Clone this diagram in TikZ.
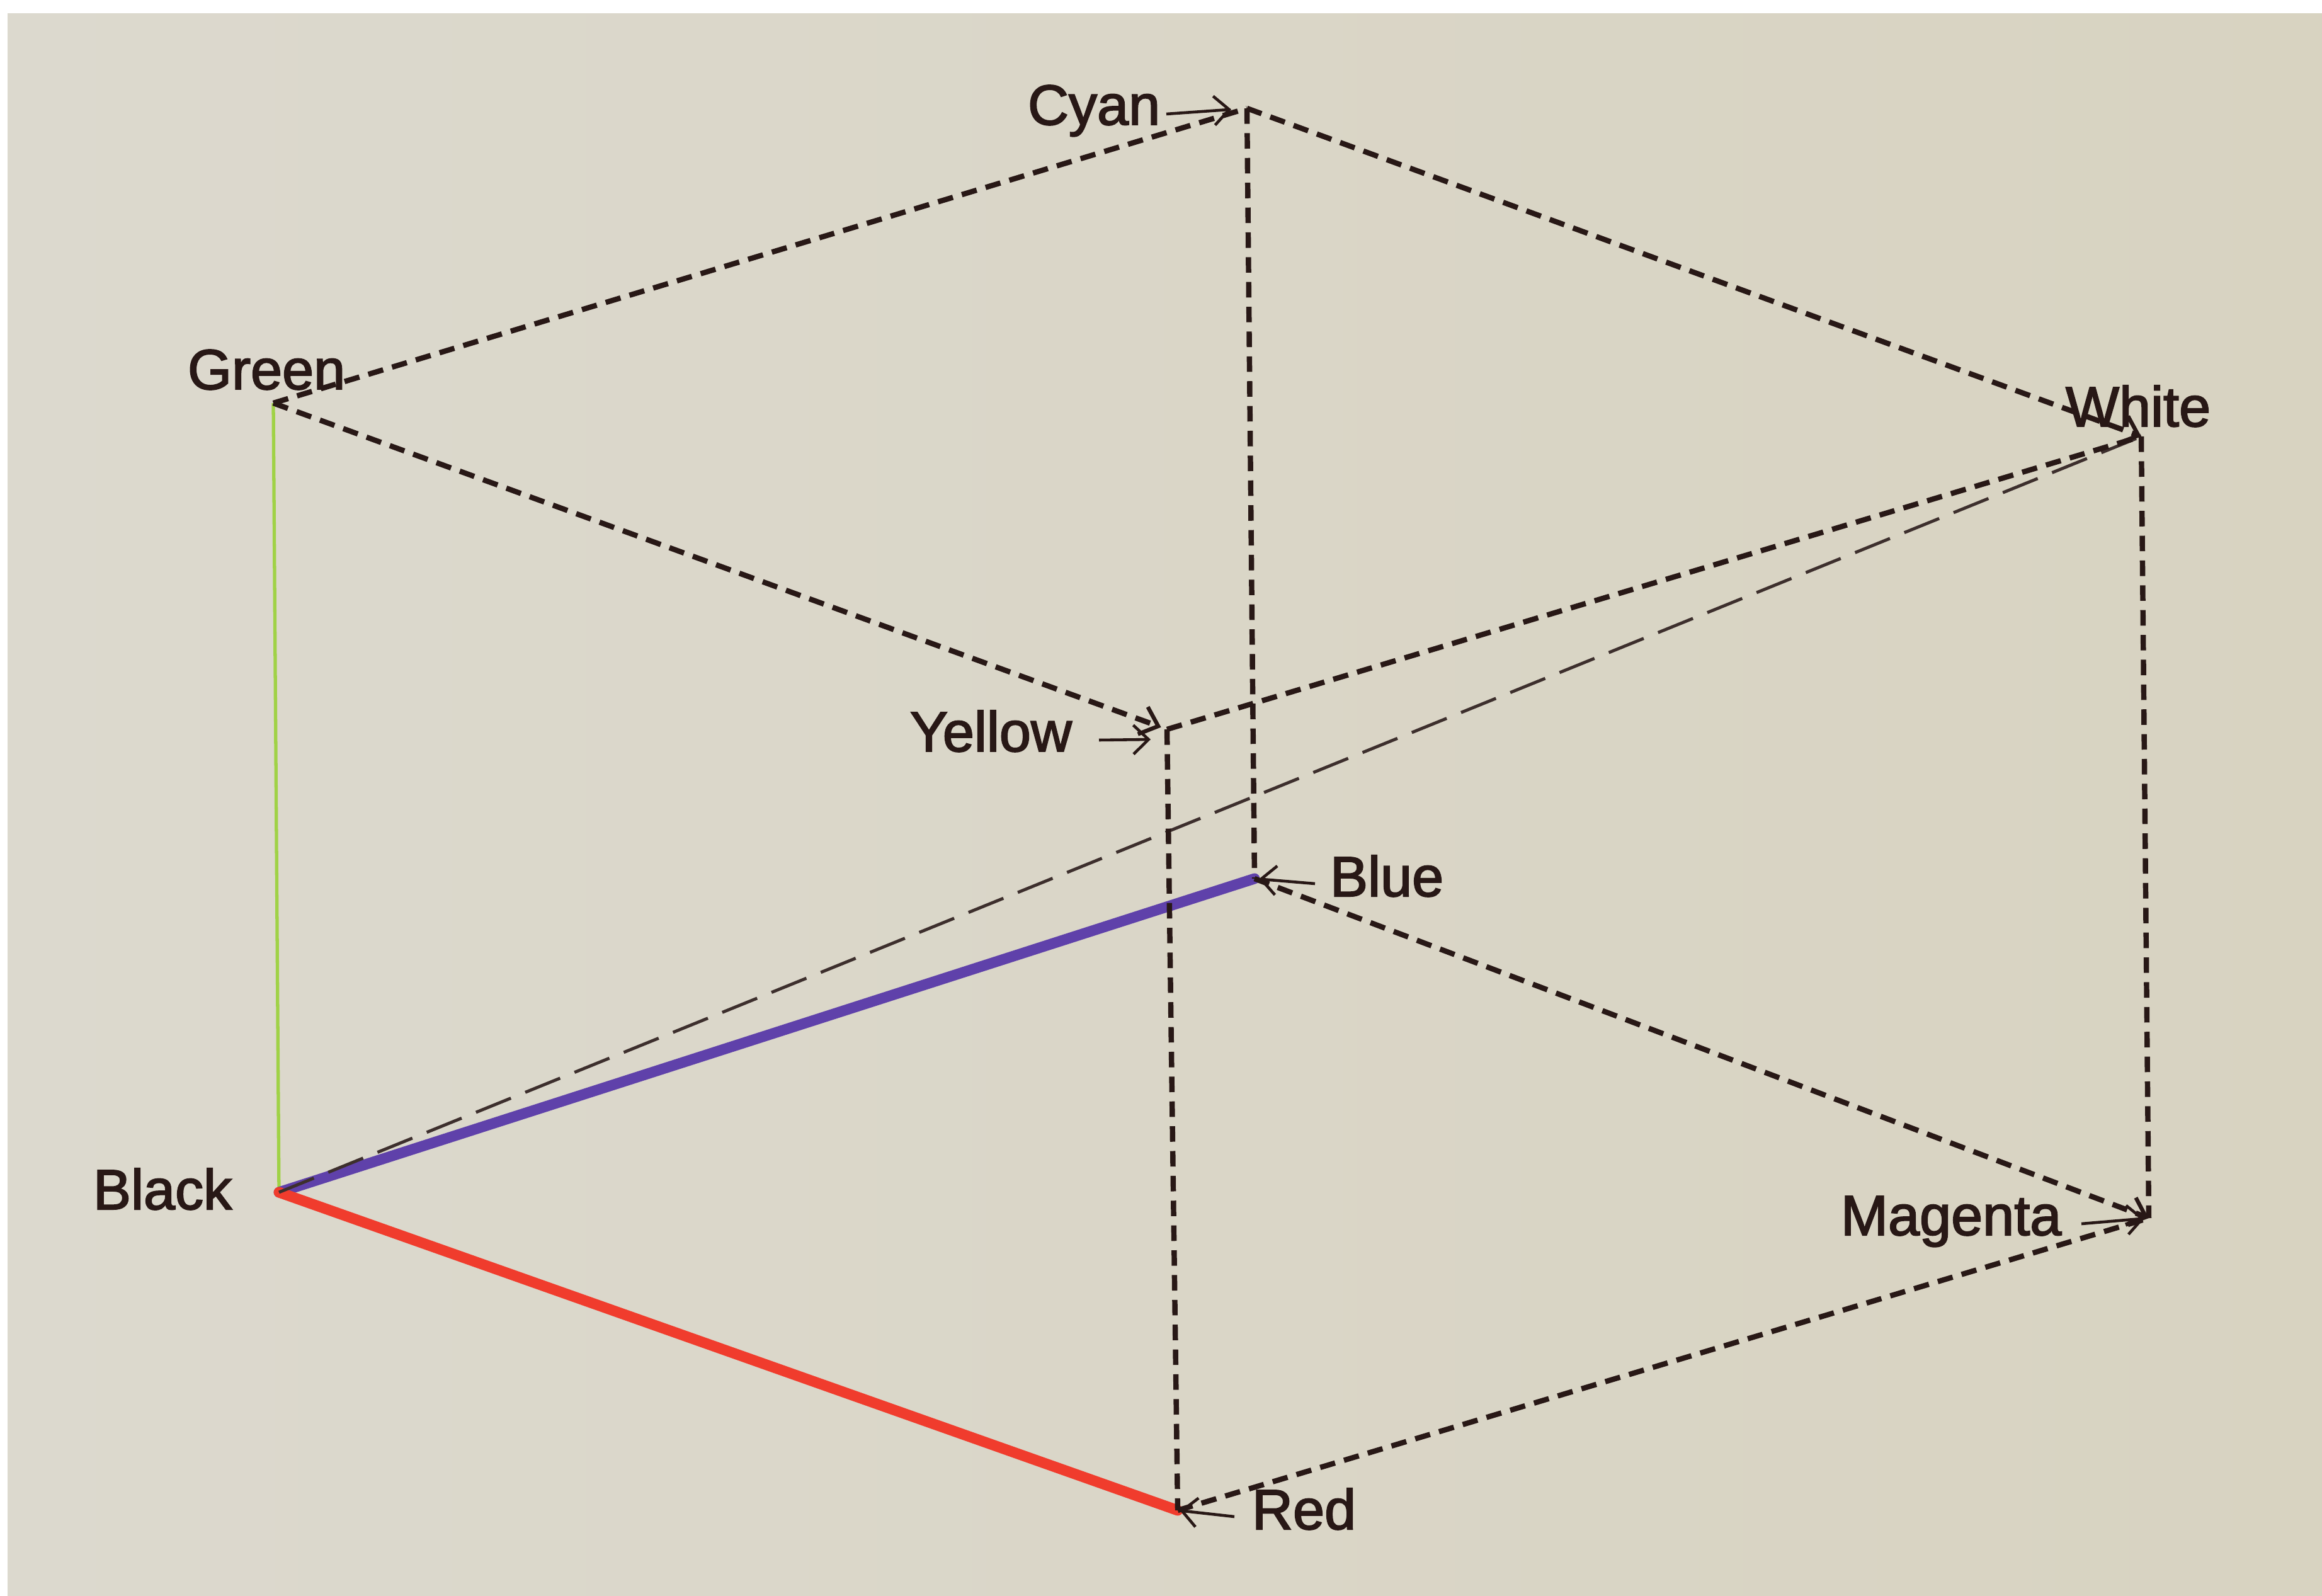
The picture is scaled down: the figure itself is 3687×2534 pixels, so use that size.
\documentclass[tikz,border=0pt]{standalone}
\usepackage{fontspec}
\setmainfont{Liberation Sans}
\newfontfamily\labfont[FakeBold=2.2]{Liberation Sans}
\usetikzlibrary{arrows.meta}
\definecolor{ink}{RGB}{40,24,22}
\definecolor{bgL}{RGB}{220,217,206}
\definecolor{bgR}{RGB}{216,211,193}
\definecolor{lgreen}{RGB}{160,210,70}
\definecolor{lpurple}{RGB}{95,65,170}
\definecolor{lred}{RGB}{240,60,45}
\begin{document}
\begin{tikzpicture}[x=0.01cm,y=-0.01cm,
  edge/.style={draw=ink, line width=2.4pt, dash pattern=on 7pt off 4.2pt},
  diag/.style={draw=ink!90, line width=1.4pt, dash pattern=on 17pt off 7pt},
  lbl/.style={draw=ink, line width=1.3pt, -{Straight Barb[length=0.24cm,width=0.46cm]}},
  endtip/.style={-{Straight Barb[length=0.26cm,width=0.46cm,line width=1.8pt]}},
  vlabel/.style={text=ink, inner sep=0pt, outer sep=0pt, anchor=base west, font=\labfont\fontsize{25.6pt}{30pt}\selectfont}]
\useasboundingbox (0,0) rectangle (3687,2534);
\fill[white] (0,0) rectangle (3687,2534);
\shade[left color=bgL, right color=bgR] (12,22) rectangle (3687,2534);

% cube vertices
\coordinate (K) at (443,1893);
\coordinate (G) at (434,640);
\coordinate (C) at (1980,172);
\coordinate (W) at (3400,693);
\coordinate (Y) at (1853,1158);
\coordinate (B) at (1992,1395);
\coordinate (M) at (3412,1934);
\coordinate (R) at (1870,2398);

% coloured axes
\draw[lgreen, line width=1.5pt] (K) -- (G);
\draw[lpurple, line width=4.8pt, line cap=round] (K) -- (B);
\draw[lred, line width=4.8pt, line cap=round] (K) -- (R);

% diagonal
\draw[diag] (K) -- (W);

% dashed edges
\draw[edge] (G) -- (C);
\draw[edge, endtip, shorten >=0.1cm] (G) -- (Y);
\draw[edge, endtip] (C) -- (W);
\draw[edge] (C) -- (B);
\draw[edge] (Y) -- (W);
\draw[edge] (Y) -- (R);
\draw[edge, endtip] (B) -- (M);
\draw[edge] (W) -- (M);
\draw[edge] (R) -- (M);

% labels
\node[vlabel] (Lc) at (1632,198) {Cyan};
\node[vlabel] (Lg) at (298,618) {Green};
\node[vlabel] (Lw) at (3280,677) {White};
\node[vlabel] (Ly) at (1445,1193) {Yellow};
\node[vlabel] (Lb) at (2112,1423) {Blue};
\node[vlabel] (Lk) at (148,1920) {Black};
\node[vlabel] (Lm) at (2923,1961) {Magenta};
\node[vlabel] (Lr) at (1988,2428) {Red};

% label arrows
\coordinate (ac) at (1852,181);
\coordinate (ay) at (1745,1175);
\coordinate (yt) at (1827,1174);
\coordinate (ab) at (2088,1403);
\coordinate (am) at (3305,1943);
\coordinate (ar) at (1960,2408);
\draw[lbl, shorten >=0.25cm] (ac) -- (C);
\draw[lbl] (ay) -- (yt);
\draw[lbl, shorten >=2pt] (ab) -- (B);
\draw[lbl, shorten >=2pt] (am) -- (M);
\draw[lbl, shorten >=1pt] (ar) -- (R);
\end{tikzpicture}
\end{document}
